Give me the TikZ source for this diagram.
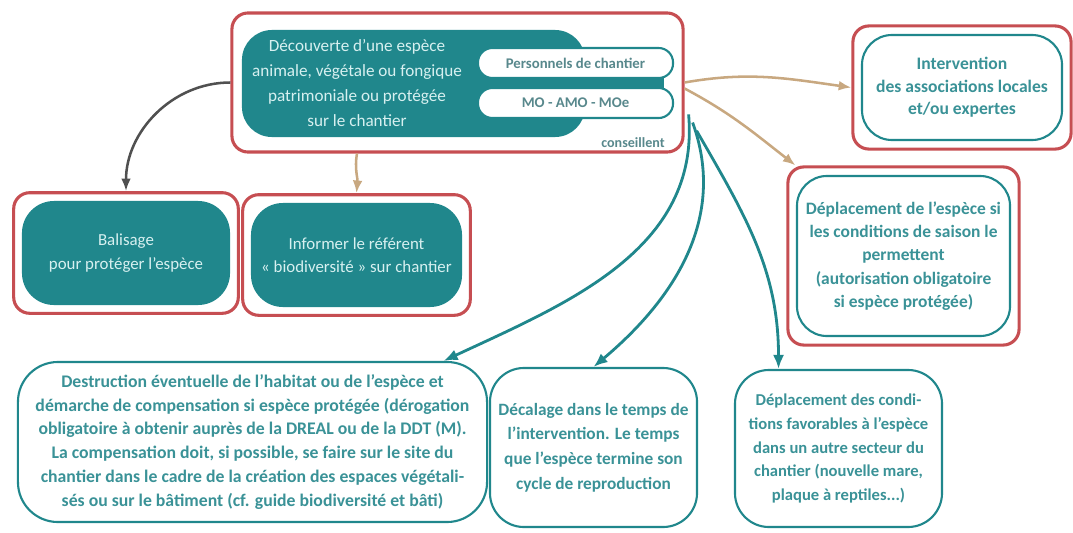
\documentclass[tikz,border=0pt]{standalone}
\usepackage{fontspec}
\setmainfont{Carlito}
\usetikzlibrary{arrows.meta,fit}
\definecolor{sarcelle}{RGB}{32,135,140}
\definecolor{rouille}{RGB}{198,78,82}
\definecolor{sable}{RGB}{200,168,128}
\definecolor{grisfonce}{RGB}{80,80,80}
\definecolor{texte}{RGB}{58,146,151}
\definecolor{clair}{RGB}{215,240,240}
\definecolor{pilgris}{RGB}{88,136,140}

\begin{document}
\begin{tikzpicture}[x=0.025cm, y=-0.025cm]
	\tikzstyle{plein}=[rectangle, rounded corners=0.8cm, fill=sarcelle, text=clair, inner sep=0pt, align=center, font=\fontsize{12}{16.5}\selectfont]
	\tikzstyle{filet}=[rectangle, rounded corners=0.75cm, draw=sarcelle, line width=1.5pt, fill=white, text=texte, inner sep=0pt, align=center, font=\bfseries\fontsize{11.8}{17}\selectfont]
	\tikzstyle{cadre}=[rectangle, rounded corners=0.4cm, draw=rouille, line width=2.2pt, inner sep=0.2cm]
	\tikzstyle{pilule}=[rectangle, rounded corners=0.36cm, draw=sarcelle, line width=1.5pt, fill=white, text=pilgris, inner sep=0pt, minimum width=4.875cm, minimum height=0.75cm, font=\bfseries\fontsize{10.5}{12}\selectfont]
	\tikzstyle{brun}=[-{Latex[length=9pt,width=7pt]}, draw=sable, line width=1.8pt]
	\tikzstyle{bleu}=[-{Latex[length=10pt,width=8pt]}, draw=sarcelle, line width=2pt]

	\useasboundingbox (0,0) rectangle (1073,533);

	% DECOUVERTE
	\node[plein, minimum width=8.575cm, minimum height=2.675cm, rounded corners=0.75cm] (F) at (413.5,83.5) {};
	\node[rectangle, fill=sarcelle, minimum width=2.6cm, minimum height=1.15cm] (L) at (612,83.5) {};
	\node[text=clair, align=center, font=\fontsize{12.2}{18}\selectfont] (D) at (357,83) {Découverte d’une espèce\\animale, végétale ou fongique\\patrimoniale ou protégée\\sur le chantier};
	\node[pilule] (P1) at (575.5,63) {Personnels de chantier};
	\node[pilule] (P2) at (575.5,103) {MO - AMO - MOe};
	\node[text=pilgris, font=\bfseries\fontsize{10}{12}\selectfont] (K) at (633,143) {conseillent};
	\node[cadre, minimum width=11.275cm, minimum height=3.475cm, inner sep=0pt] (Dc) at (457.5,82.5) {};

	% ACTIONS
	\node[plein, minimum width=5.2cm, minimum height=2.6cm] (B) at (126,253) {Balisage\\pour protéger l’espèce};
	\node[cadre, fit=(B)] (Bc) {};
	\node[plein, minimum width=5.275cm, minimum height=2.6cm] (I) at (356.5,255) {Informer le référent\\« biodiversité » sur chantier};
	\node[cadre, fit=(I)] (Ic) {};
	\node[filet, minimum width=5.0cm, minimum height=2.625cm, font=\bfseries\fontsize{12.5}{16}\selectfont] (A) at (962,87.5) {Intervention\\des associations locales\\et/ou expertes};
	\node[cadre, fit=(A)] (Ac) {};
	\node[filet, minimum width=5.325cm, minimum height=4.0cm, font=\bfseries\fontsize{12.4}{16.5}\selectfont] (E) at (903.5,256) {Déplacement de l’espèce si\\les conditions de saison le\\permettent\\(autorisation obligatoire\\si espèce protégée)};
	\node[cadre, fit=(E)] (Ec) {};

	% ISSUES
	\node[filet, minimum width=11.725cm, minimum height=4.0cm, rounded corners=1.0cm, font=\bfseries\fontsize{12.6}{17}\selectfont] (X) at (252.5,442) {Destruction éventuelle de l’habitat ou de l’espèce et\\démarche de compensation si espèce protégée (dérogation\\obligatoire à obtenir auprès de la DREAL ou de la DDT (M).\\La compensation doit, si possible, se faire sur le site du\\chantier dans le cadre de la création des espaces végétali-\\sés ou sur le bâtiment (cf. guide biodiversité et bâti)};
	\node[filet, minimum width=5.175cm, minimum height=3.975cm, rounded corners=0.85cm, font=\bfseries\fontsize{12.3}{17.5}\selectfont] (T) at (593.5,447.5) {Décalage dans le temps de\\l’intervention. Le temps\\que l’espèce termine son\\cycle de reproduction};
	\node[filet, minimum width=5.175cm, minimum height=3.925cm, rounded corners=0.85cm] (C) at (838.5,448.5) {Déplacement des condi-\\tions favorables à l’espèce\\dans un autre secteur du\\chantier (nouvelle mare,\\plaque à reptiles...)};

	% FLECHES
	\path
		(Dc.west) edge [brun, draw=grisfonce, out=180, in=90] (Bc.north)
		(D.south |- Dc.south) edge [brun, out=-100, in=85] (Ic.north)
		(Dc.east) edge [brun, out=10, in=172] (Ac.west)
		([yshift=-0.15cm]Dc.east) edge [brun, out=-28, in=142] (Ec.140)
		([xshift=0.1cm]Dc.-8) edge [bleu, out=-85, in=25] (X.23)
		([xshift=0.2cm]Dc.-10) edge [bleu, out=-70, in=40] (T.north)
		([xshift=0.3cm]Dc.-12) edge [bleu, out=-60, in=90] (C.127)
	;
\end{tikzpicture}
\end{document}
